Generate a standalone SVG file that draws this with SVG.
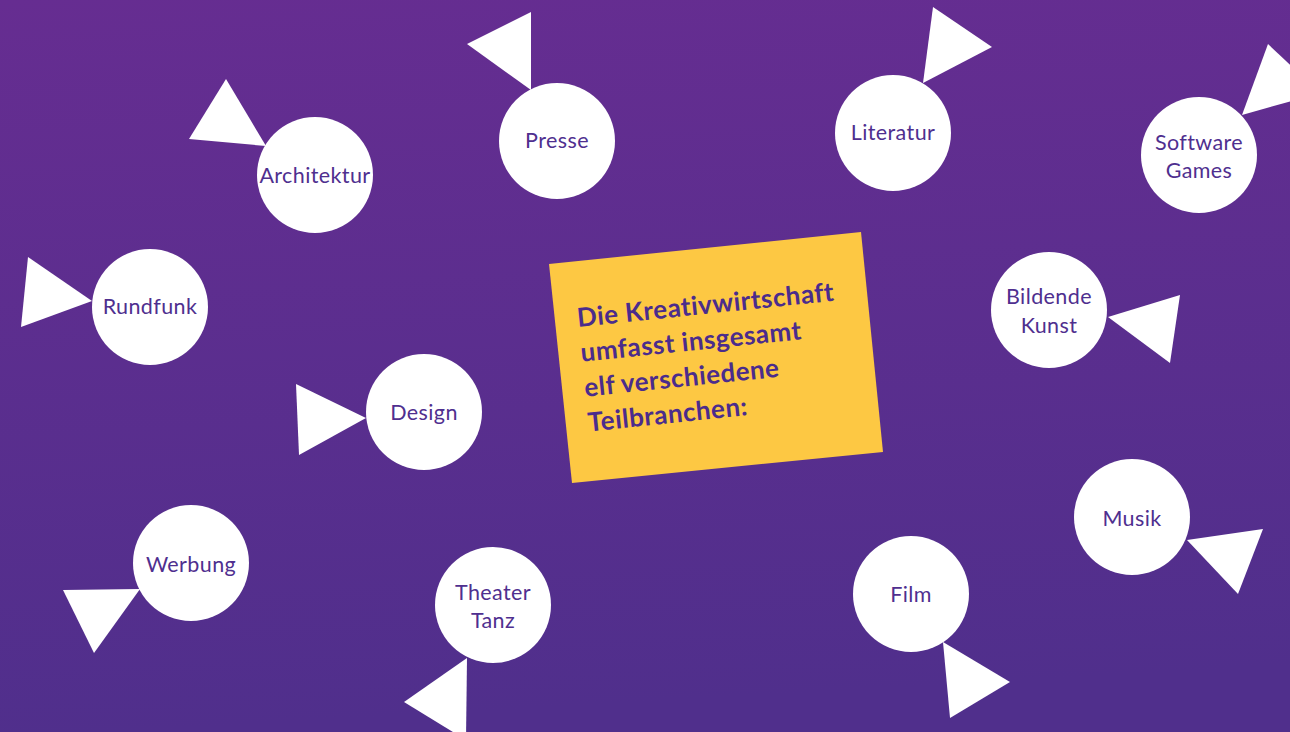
<svg xmlns="http://www.w3.org/2000/svg" width="1290" height="732" viewBox="0 0 1290 732">
  <defs>
    <linearGradient id="bg" x1="0" y1="0" x2="0.1" y2="1">
      <stop offset="0" stop-color="#662d91"/>
      <stop offset="1" stop-color="#502f8c"/>
    </linearGradient>
    <style>
      .c { fill: #ffffff; }
      .t { fill: #ffffff; }
      .lbl { font-family: Lato, "Open Sans", "Liberation Sans", sans-serif; font-size: 21.5px; letter-spacing: 0.4px; fill: #4f2f8f; text-anchor: middle; }
      .head { font-family: Lato, "Open Sans", "Liberation Sans", sans-serif; font-size: 26px; letter-spacing: 0.5px; font-weight: bold; fill: #4b2c8c; }
    </style>
  </defs>
  <rect x="0" y="0" width="1290" height="732" fill="url(#bg)"/>

  <g id="connectors">
    <polygon class="t" points="226,79 189,139 266,146"/>
    <polygon class="t" points="531,12 467,44 531,90"/>
    <polygon class="t" points="933,7 992,47 923,83"/>
    <polygon class="t" points="1268,44 1320,93 1242,115"/>
    <polygon class="t" points="28,257 21,327 92,301"/>
    <polygon class="t" points="296,384 299,455 366,418"/>
    <polygon class="t" points="1108,317 1180,295 1170,363"/>
    <polygon class="t" points="1187,540 1263,529 1238,594"/>
    <polygon class="t" points="943,642 1010,682 950,718"/>
    <polygon class="t" points="467,658 404,702 466,740"/>
    <polygon class="t" points="63,590 140,589 94,653"/>
  </g>

  <g id="center">
    <polygon points="549,264 861,232 883,452 572,483" fill="#fdc843"/>
    <g transform="rotate(-5.86 578 327)" class="head">
      <text x="578" y="327">Die Kreativwirtschaft</text>
      <text x="578" y="362">umfasst insgesamt</text>
      <text x="578" y="397">elf verschiedene</text>
      <text x="578" y="432">Teilbranchen:</text>
    </g>
  </g>

  <g id="architektur"><circle class="c" cx="315" cy="175" r="58"/><text class="lbl" x="315" y="183">Architektur</text></g>
  <g id="presse"><circle class="c" cx="557" cy="141" r="58"/><text class="lbl" x="557" y="148">Presse</text></g>
  <g id="literatur"><circle class="c" cx="893" cy="133" r="58"/><text class="lbl" x="893" y="140">Literatur</text></g>
  <g id="software"><circle class="c" cx="1199" cy="155" r="58"/><text class="lbl" x="1199" y="150">Software</text><text class="lbl" x="1199" y="178">Games</text></g>
  <g id="rundfunk"><circle class="c" cx="150" cy="307" r="58"/><text class="lbl" x="150" y="314">Rundfunk</text></g>
  <g id="design"><circle class="c" cx="424" cy="412" r="58"/><text class="lbl" x="424" y="420">Design</text></g>
  <g id="bildende"><circle class="c" cx="1049" cy="310" r="58"/><text class="lbl" x="1049" y="304">Bildende</text><text class="lbl" x="1049" y="333">Kunst</text></g>
  <g id="musik"><circle class="c" cx="1132" cy="517" r="58"/><text class="lbl" x="1132" y="526">Musik</text></g>
  <g id="film"><circle class="c" cx="911" cy="594" r="58"/><text class="lbl" x="911" y="602">Film</text></g>
  <g id="theater"><circle class="c" cx="493" cy="605" r="58"/><text class="lbl" x="493" y="600">Theater</text><text class="lbl" x="493" y="628">Tanz</text></g>
  <g id="werbung"><circle class="c" cx="191" cy="563" r="58"/><text class="lbl" x="191" y="572">Werbung</text></g>
</svg>
